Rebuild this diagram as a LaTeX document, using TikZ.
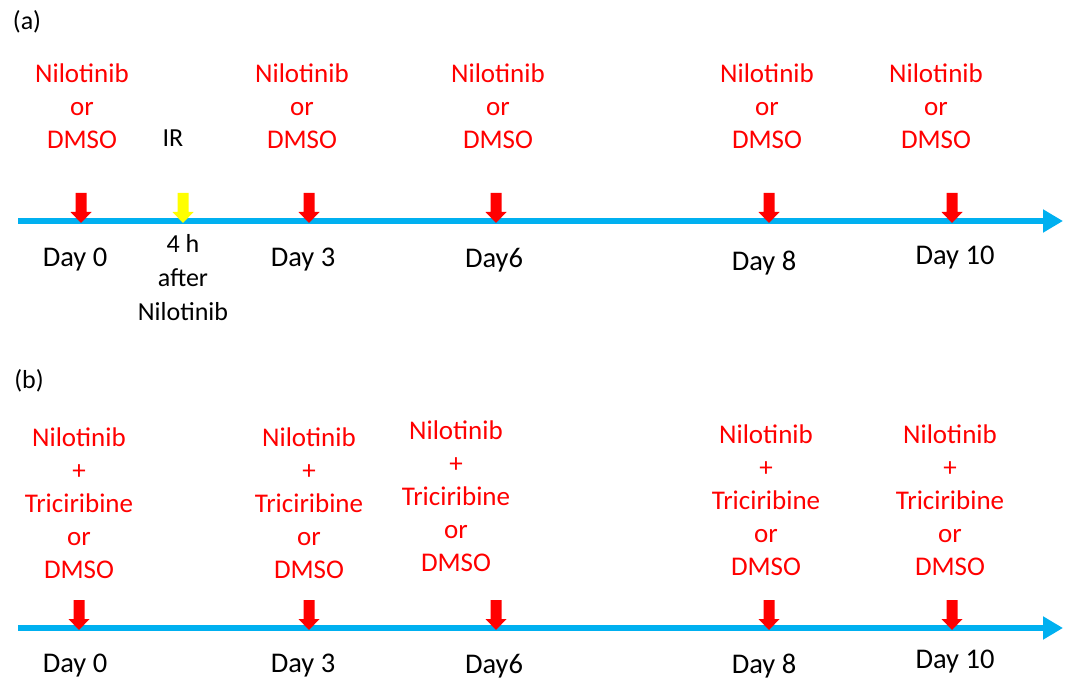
\documentclass[tikz,border=0pt]{standalone}
\usepackage{fontspec}
\setmainfont{Carlito}
\usetikzlibrary{arrows.meta}
\definecolor{lineblue}{RGB}{0,176,240}
\definecolor{dosered}{RGB}{255,0,0}
\definecolor{iryellow}{RGB}{255,255,0}
\tikzset{
  timeline/.style={draw=lineblue, line width=6pt, -{Triangle[length=20pt,width=22pt]}},
  dose/.style={text=dosered, align=center, font=\fontsize{27}{33}\selectfont, inner sep=0pt},
  daylabel/.style={text=black, align=center, font=\fontsize{28.5}{34}\selectfont, inner sep=0pt},
  note/.style={text=black, align=center, font=\fontsize{26}{34}\selectfont, inner sep=0pt},
  panel/.style={text=black, font=\fontsize{26}{30}\selectfont, inner sep=0pt},
  pics/dosearrow/.style={code={
    \fill[#1] (-5.5,-28) -- (5.5,-28) -- (5.5,-9) -- (10.5,-9) -- (0,2) -- (-10.5,-9) -- (-5.5,-9) -- cycle;
  }}
}
\begin{document}
\begin{tikzpicture}[x=1pt,y=-1pt]
\useasboundingbox (0,0) rectangle (1068,679);

% ---------- panel (a) ----------
\node[panel] (pa) at (27,22) {(a)};

\coordinate (ta0) at (18,221);
\coordinate (ta1) at (1063,221);
\draw[timeline] (ta0) -- (ta1);

\pic at (81,221) {dosearrow=dosered};
\pic at (183,221) {dosearrow=iryellow};
\pic at (309,221) {dosearrow=dosered};
\pic at (496,221) {dosearrow=dosered};
\pic at (769,221) {dosearrow=dosered};
\pic at (952,221) {dosearrow=dosered};

\node[dose] (da0) at (82,106) {Nilotinib\\or\\DMSO};
\node[note] (ir) at (173,138) {IR};
\node[dose] (da3) at (302,106) {Nilotinib\\or\\DMSO};
\node[dose] (da6) at (498,106) {Nilotinib\\or\\DMSO};
\node[dose] (da8) at (767,106) {Nilotinib\\or\\DMSO};
\node[dose] (da10) at (936,106) {Nilotinib\\or\\DMSO};

\node[daylabel] (la0) at (75,260) {Day 0};
\node[note] (lir) at (183,278) {4 h\\after\\Nilotinib};
\node[daylabel] (la3) at (303,260) {Day 3};
\node[daylabel] (la6) at (494,260) {Day6};
\node[daylabel] (la8) at (764,263) {Day 8};
\node[daylabel] (la10) at (955,258) {Day 10};

% ---------- panel (b) ----------
\node[panel] (pb) at (29,381) {(b)};

\coordinate (tb0) at (18,628);
\coordinate (tb1) at (1063,628);
\draw[timeline] (tb0) -- (tb1);

\pic at (79,628) {dosearrow=dosered};
\pic at (309,628) {dosearrow=dosered};
\pic at (496,628) {dosearrow=dosered};
\pic at (769,628) {dosearrow=dosered};
\pic at (952,628) {dosearrow=dosered};

\node[dose] (db0) at (79,503) {Nilotinib\\+\\Triciribine\\or\\DMSO};
\node[dose] (db3) at (309,503) {Nilotinib\\+\\Triciribine\\or\\DMSO};
\node[dose] (db6) at (456,496) {Nilotinib\\+\\Triciribine\\or\\DMSO};
\node[dose] (db8) at (766,500) {Nilotinib\\+\\Triciribine\\or\\DMSO};
\node[dose] (db10) at (950,500) {Nilotinib\\+\\Triciribine\\or\\DMSO};

\node[daylabel] (lb0) at (75,666) {Day 0};
\node[daylabel] (lb3) at (303,666) {Day 3};
\node[daylabel] (lb6) at (494,666) {Day6};
\node[daylabel] (lb8) at (764,666) {Day 8};
\node[daylabel] (lb10) at (955,662) {Day 10};
\end{tikzpicture}
\end{document}
